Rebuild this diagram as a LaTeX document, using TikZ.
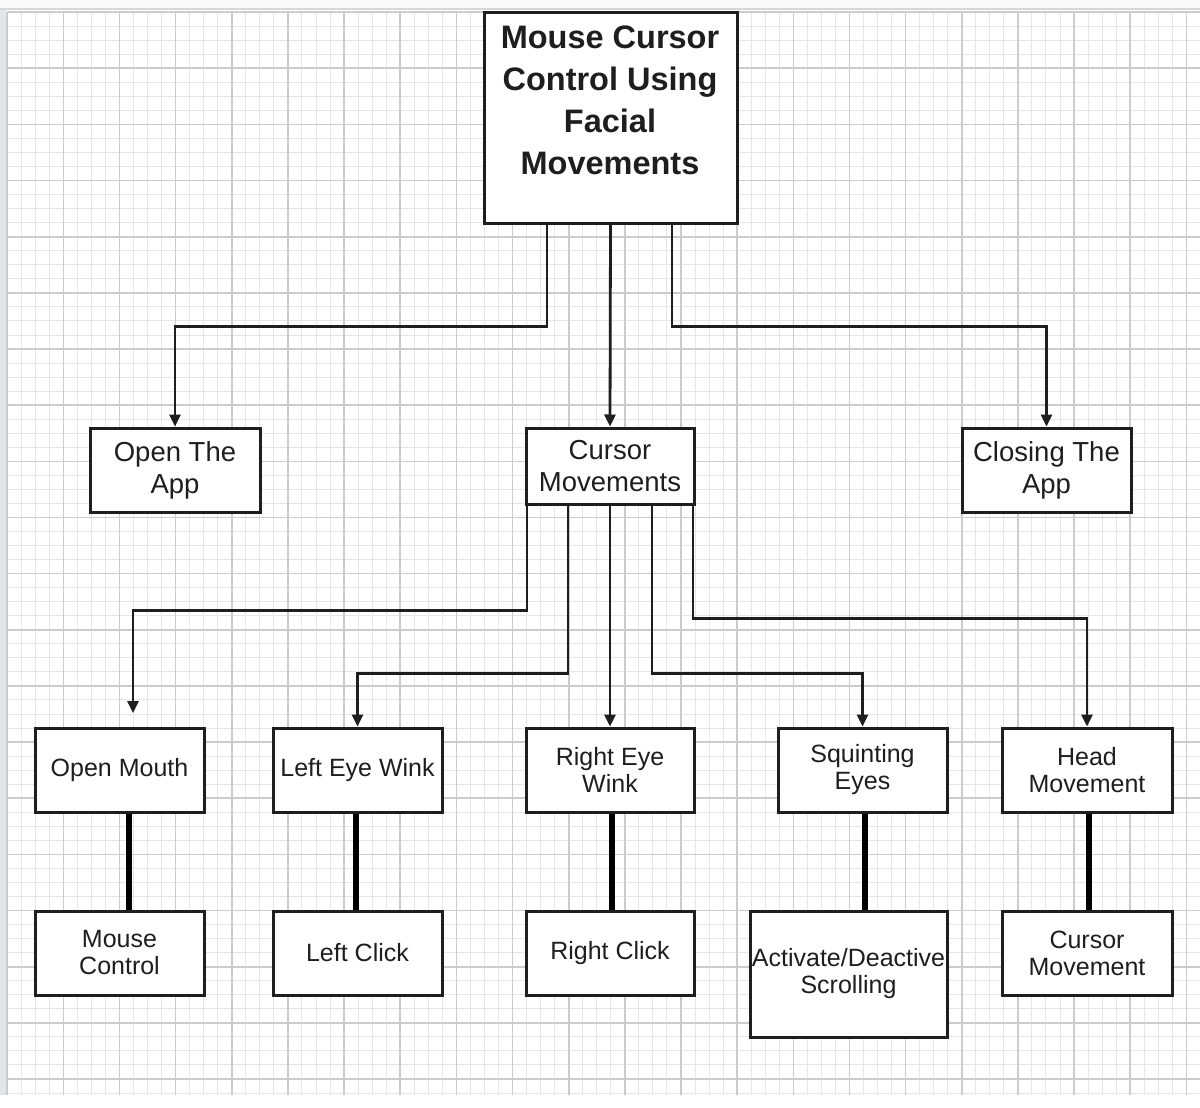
\documentclass[tikz,border=0pt]{standalone}
\usepackage{fontspec}
\setmainfont{Liberation Sans}
\usetikzlibrary{arrows.meta}
\definecolor{gmin}{HTML}{E6E6E6}
\definecolor{gmaj}{HTML}{CCCCCC}
\definecolor{edgeband}{HTML}{E2E6EB}
\definecolor{topline}{HTML}{D6D6DC}
\definecolor{ink}{HTML}{1E1E1E}
\tikzset{
  boxbase/.style={draw=ink, line width=3pt, fill=white, inner sep=0pt, align=center, text=ink},
  midbox/.style={boxbase, font=\fontsize{27.5}{32}\selectfont},
  lowbox/.style={boxbase, font=\fontsize{25}{27}\selectfont},
  titletxt/.style={font=\bfseries\fontsize{32.5}{42}\selectfont, align=center, inner sep=0pt, text=ink},
  conn/.style={draw=ink, line width=2.8pt, -{Triangle[length=12pt,width=11pt]}},
  thickconn/.style={draw=black, line width=6.5pt},
  minorline/.style={gmin, line width=1pt},
  majorline/.style={gmaj, line width=1.6pt}
}
\begin{document}
\begin{tikzpicture}[x=1pt,y=-1pt]
\useasboundingbox (0,0) rectangle (1200,1108);
\fill[white] (0,0) rectangle (1200,1108);
% grid
\foreach \i in {0,...,84} { \draw[minorline] ({7.2+14.0375*\i},12.15) -- ({7.2+14.0375*\i},1095); }
\foreach \j in {0,...,77} { \draw[minorline] (7.2,{12.15+14.0375*\j}) -- (1200,{12.15+14.0375*\j}); }
\foreach \i in {0,...,21} { \draw[majorline] ({7.2+56.15*\i},12.15) -- ({7.2+56.15*\i},1095); }
\foreach \j in {0,...,19} { \draw[majorline] (7.2,{12.15+56.15*\j}) -- (1200,{12.15+56.15*\j}); }
\fill[edgeband] (0,0) rectangle (6,1095);
\fill[white!96!gray] (0,0) rectangle (1200,8);
\draw[topline, line width=2pt] (0,9) -- (1200,9);

% title
\node[boxbase, minimum width=253pt, minimum height=210pt] (title) at (610.5,118) {};
\node[titletxt] (titlelbl) at (610,100) {Mouse Cursor\\Control Using\\Facial\\Movements};

% second level
\node[midbox, minimum width=170pt, minimum height=84pt] (open) at (175,470) {Open The\\App};
\node[midbox, minimum width=168pt, minimum height=76pt] (cursor) at (610,466) {Cursor\\Movements};
\node[midbox, minimum width=169pt, minimum height=84pt] (closing) at (1046.5,470) {Closing The\\App};

% third level
\node[lowbox, minimum width=169pt, minimum height=84pt] (mouth) at (119.5,770) {Open Mouth};
\node[lowbox, minimum width=169pt, minimum height=84pt] (lwink) at (357.5,770) {Left Eye Wink};
\node[lowbox, minimum width=168pt, minimum height=84pt] (rwink) at (610,770) {Right Eye\\Wink};
\node[lowbox, minimum width=169pt, minimum height=84pt] (squint) at (862.5,770) {Squinting\\Eyes};
\node[lowbox, minimum width=170pt, minimum height=84pt] (head) at (1087,770) {Head\\Movement};

% fourth level
\node[lowbox, minimum width=169pt, minimum height=84pt] (mousectl) at (119.5,953) {Mouse\\Control};
\node[lowbox, minimum width=169pt, minimum height=84pt] (lclick) at (357.5,953) {Left Click};
\node[lowbox, minimum width=168pt, minimum height=84pt] (rclick) at (610,953) {Right Click};
\node[lowbox, minimum width=197pt, minimum height=126pt] (scroll) at (848.5,974) {Activate/Deactive\\Scrolling};
\node[lowbox, minimum width=170pt, minimum height=84pt] (curmov) at (1087,953) {Cursor\\Movement};

% connectors from title
\coordinate (t1) at (title.south -| 547,0);
\coordinate (t3) at (title.south -| 672,0);
\draw[conn] (t1) -- ++(0,102) -| (open.north);
\draw[conn] (title.south) -- (cursor.north);
\draw[conn] (t3) -- ++(0,102) -| (closing.north);

% connectors from cursor movements
\coordinate (c1) at (cursor.south -| 527,0);
\coordinate (c2) at (cursor.south -| 568,0);
\coordinate (c4) at (cursor.south -| 652,0);
\coordinate (c5) at (cursor.south -| 693,0);
\coordinate (mouthin) at (133,713);
\draw[conn] (c1) -- ++(0,105) -| (mouthin);
\draw[conn] (c2) -- ++(0,168) -| (lwink.north);
\draw[conn] (cursor.south) -- (rwink.north);
\draw[conn] (c4) -- ++(0,168) -| (squint.north);
\draw[conn] (c5) -- ++(0,113) -| (head.north);

% thick links
\draw[thickconn] (mouth.south -| 129,0) -- (mousectl.north -| 129,0);
\draw[thickconn] (lwink.south -| 356,0) -- (lclick.north -| 356,0);
\draw[thickconn] (rwink.south -| 612,0) -- (rclick.north -| 612,0);
\draw[thickconn] (squint.south -| 865,0) -- (scroll.north -| 865,0);
\draw[thickconn] (head.south -| 1089,0) -- (curmov.north -| 1089,0);
\end{tikzpicture}
\end{document}
